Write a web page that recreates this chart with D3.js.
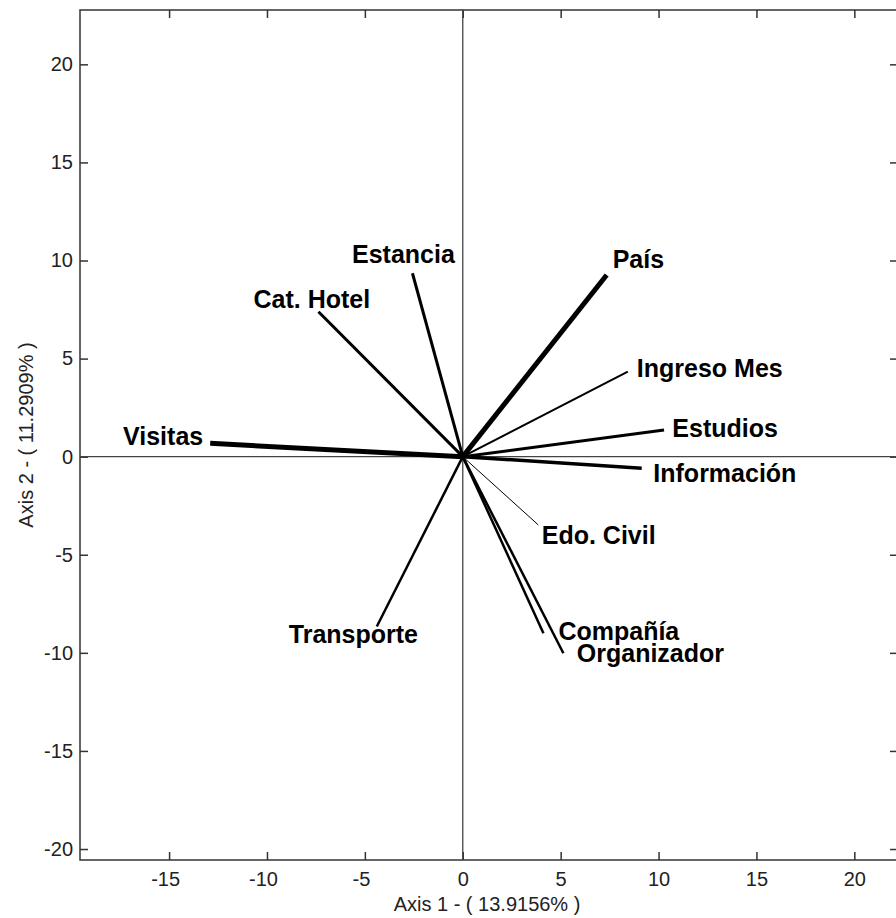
<!DOCTYPE html>
<html>
<head>
<meta charset="utf-8">
<script src="https://cdn.jsdelivr.net/npm/d3@7"></script>
<style>
  html, body { margin: 0; padding: 0; background: #fff; }
  svg { display: block; }
</style>
</head>
<body>
<svg id="chart" width="896" height="918"></svg>
<script>
// Variable loadings on the first two factorial axes
const variables = ["Visitas", "Cat. Hotel", "Estancia", "País", "Ingreso Mes", "Estudios",
                   "Información", "Edo. Civil", "Transporte", "Compañía", "Organizador"];
const axis1Values = [-12.9, -7.37, -2.57, 7.35, 8.43, 10.28, 9.14, 3.86, -4.39, 4.12, 5.14];
const axis2Values = [0.68, 7.39, 9.35, 9.26, 4.33, 1.36, -0.59, -3.48, -8.66, -9.0, -10.02];

const xTicks = [-15, -10, -5, 0, 5, 10, 15, 20];
const yTicks = [-20, -15, -10, -5, 0, 5, 10, 15, 20];
const xTitle = "Axis 1 - ( 13.9156% )";
const yTitle = "Axis 2 - ( 11.2909% )";

// Drawing style: stroke width of each vector and placement of its label
const vectorWidth = {
  "Visitas": 5, "Cat. Hotel": 3, "Estancia": 3, "País": 5, "Ingreso Mes": 2,
  "Estudios": 3, "Información": 3.5, "Edo. Civil": 1, "Transporte": 2.5,
  "Compañía": 2.5, "Organizador": 2.5
};
const labelPlacement = {
  "Visitas":     { anchor: "end",    dx: -7,   dy: 2 },
  "Cat. Hotel":  { anchor: "middle", dx: -6.6, dy: -3.4 },
  "Estancia":    { anchor: "middle", dx: -9,   dy: -10.6 },
  "País":        { anchor: "start",  dx: 6,    dy: -7.3 },
  "Ingreso Mes": { anchor: "start",  dx: 9,    dy: 5 },
  "Estudios":    { anchor: "start",  dx: 8.3,  dy: 6.7 },
  "Información": { anchor: "start",  dx: 11.6, dy: 13.4 },
  "Edo. Civil":  { anchor: "start",  dx: 3.4,  dy: 19 },
  "Transporte":  { anchor: "middle", dx: -23.4, dy: 16.6 },
  "Compañía":    { anchor: "start",  dx: 15,   dy: 7 },
  "Organizador": { anchor: "start",  dx: 13.4, dy: 9 }
};

const margin = { left: 80, top: 10 };
const width = 818, height = 850;
const font = "'Liberation Sans', Arial, sans-serif";
const plainNumber = d => String(d);

const svg = d3.select("#chart");
const g = svg.append("g").attr("transform", `translate(${margin.left},${margin.top})`);

const x = d3.scaleLinear().domain([-19.55, 22.23]).range([0, width]);
const y = d3.scaleLinear().domain([-20.56, 22.77]).range([height, 0]);

// Axes with inward ticks on all four sides
const tickLen = 8;
const styleAxis = (sel, showLabels) => {
  sel.select(".domain").remove();
  sel.selectAll(".tick line").attr("stroke", "#333").attr("stroke-width", 1.5);
  sel.selectAll(".tick text")
    .attr("font-family", font).attr("font-size", 20).attr("fill", "#222")
    .style("display", showLabels ? null : "none");
};

g.append("g").attr("transform", `translate(0,${height})`)
  .call(d3.axisBottom(x).tickValues(xTicks).tickSizeInner(-tickLen).tickSizeOuter(0).tickPadding(12).tickFormat(plainNumber))
  .call(s => styleAxis(s, true))
  .call(s => s.selectAll(".tick text").attr("dx", d => d < 0 ? -4 : 0));
g.append("g")
  .call(d3.axisTop(x).tickValues(xTicks).tickSizeInner(-tickLen).tickSizeOuter(0))
  .call(s => styleAxis(s, false));
g.append("g")
  .call(d3.axisLeft(y).tickValues(yTicks).tickSizeInner(-tickLen).tickSizeOuter(0).tickPadding(7).tickFormat(plainNumber))
  .call(s => styleAxis(s, true));
g.append("g").attr("transform", `translate(${width},0)`)
  .call(d3.axisRight(y).tickValues(yTicks).tickSizeInner(-tickLen).tickSizeOuter(0))
  .call(s => styleAxis(s, false));

// Plot frame
g.append("rect")
  .attr("x", 0).attr("y", 0).attr("width", width).attr("height", height)
  .attr("fill", "none").attr("stroke", "#333").attr("stroke-width", 1.5);

// Origin cross lines
g.append("line")
  .attr("x1", x(0)).attr("x2", x(0)).attr("y1", 0).attr("y2", height)
  .attr("stroke", "#444").attr("stroke-width", 1.3);
g.append("line")
  .attr("x1", 0).attr("x2", width).attr("y1", y(0)).attr("y2", y(0))
  .attr("stroke", "#444").attr("stroke-width", 1.3);

// Vectors from the origin
const rows = variables.map((name, i) => ({ name, a1: axis1Values[i], a2: axis2Values[i] }));

g.append("g").selectAll("line")
  .data(rows)
  .join("line")
  .attr("x1", x(0)).attr("y1", y(0))
  .attr("x2", d => x(d.a1)).attr("y2", d => y(d.a2))
  .attr("stroke", "#000")
  .attr("stroke-width", d => vectorWidth[d.name])
  .attr("stroke-linecap", "butt");

g.append("g").selectAll("text")
  .data(rows)
  .join("text")
  .attr("x", d => x(d.a1) + labelPlacement[d.name].dx)
  .attr("y", d => y(d.a2) + labelPlacement[d.name].dy)
  .attr("text-anchor", d => labelPlacement[d.name].anchor)
  .attr("font-family", font)
  .attr("font-size", 25)
  .attr("font-weight", "bold")
  .attr("fill", "#000")
  .text(d => d.name);

// Axis titles
svg.append("text")
  .attr("x", margin.left + width / 2 - 2)
  .attr("y", 911)
  .attr("text-anchor", "middle")
  .attr("font-family", font).attr("font-size", 20).attr("fill", "#222")
  .text(xTitle);

svg.append("text")
  .attr("transform", `translate(33,${margin.top + height / 2}) rotate(-90)`)
  .attr("text-anchor", "middle")
  .attr("font-family", font).attr("font-size", 20).attr("fill", "#222")
  .text(yTitle);
</script>
</body>
</html>
